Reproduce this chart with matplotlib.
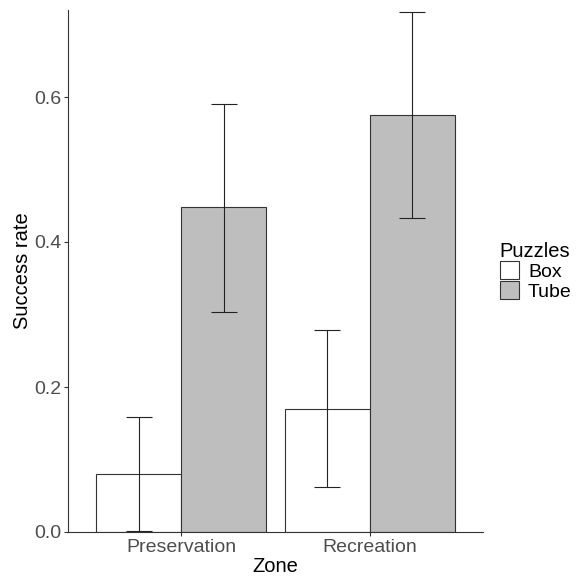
import numpy as np
import matplotlib.pyplot as plt
from matplotlib.patches import Patch

plt.rcParams['font.family'] = ['Liberation Sans', 'DejaVu Sans']

zones = ['Preservation', 'Recreation']
puzzles = ['Box', 'Tube']
success = {'Box': [0.080, 0.170], 'Tube': [0.448, 0.575]}
lower = {'Box': [0.002, 0.062], 'Tube': [0.304, 0.433]}
upper = {'Box': [0.159, 0.279], 'Tube': [0.591, 0.717]}
fills = {'Box': 'white', 'Tube': '#bebebe'}

fig = plt.figure(figsize=(5.77, 5.80), dpi=100)
ax = fig.add_axes([68/577, 48/580, (483-68)/577, (532-10)/580])

x = np.arange(1, len(zones) + 1)
w = 0.45
for i, p in enumerate(puzzles):
    pos = x + (i - 0.5) * w
    vals = np.array(success[p])
    ax.bar(pos, vals, width=w, color=fills[p], edgecolor='#333333', linewidth=0.8, zorder=2)
    err = [vals - np.array(lower[p]), np.array(upper[p]) - vals]
    ax.errorbar(pos, vals, yerr=err, fmt='none', ecolor='#222222', elinewidth=0.8,
                capsize=9.5, capthick=0.8, zorder=3)

ax.set_xlim(0.4, 2.6)
ax.set_ylim(0, 0.72)
ax.set_xticks(x)
ax.set_xticklabels(zones)
ax.set_yticks([0.0, 0.2, 0.4, 0.6])
ax.set_yticklabels(['0.0', '0.2', '0.4', '0.6'])
ax.tick_params(colors='#333333', labelcolor='#4d4d4d', labelsize=14, length=3, width=0.8, pad=2)
for s in ['top', 'right']:
    ax.spines[s].set_visible(False)
for s in ['left', 'bottom']:
    ax.spines[s].set_color('#333333')
    ax.spines[s].set_linewidth(0.8)
ax.set_xlabel('Zone', fontsize=14.5, labelpad=1)
ax.set_ylabel('Success rate', fontsize=14.5, labelpad=1)

handles = [Patch(facecolor=fills[p], edgecolor='#333333', linewidth=0.8, label=p) for p in puzzles]
leg = fig.legend(handles=handles, title='Puzzles', loc='upper left', bbox_to_anchor=(494/577, 1 - 236/580),
                 frameon=False, fontsize=14, title_fontsize=14.5, handlelength=1.0, handleheight=1.1,
                 handletextpad=0.45, labelspacing=0.0, borderaxespad=0, borderpad=0.3)
leg._legend_box.align = 'left'

fig.savefig('out.png', dpi=100)
